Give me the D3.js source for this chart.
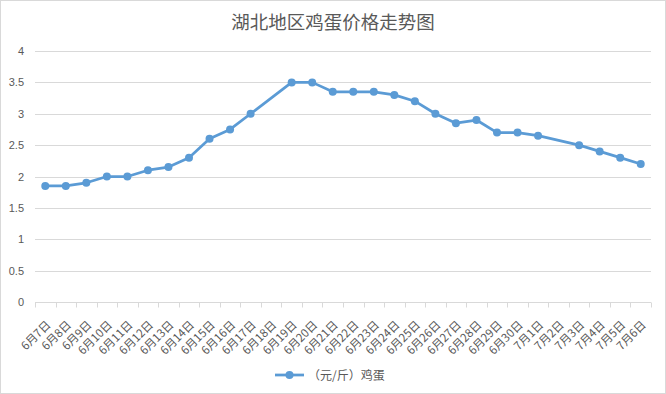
<!DOCTYPE html>
<html>
<head>
<meta charset="utf-8">
<script src="https://cdn.jsdelivr.net/npm/d3@7"></script>
<style>
  body { margin: 0; background: #fff; }
  text { font-family: "Liberation Sans", "Noto Sans CJK SC", sans-serif; }
</style>
</head>
<body>
<div id="chart"></div>
<script>
// categories (dates) and prices, null = no value that day
const dates = ["6月7日","6月8日","6月9日","6月10日","6月11日","6月12日","6月13日","6月14日","6月15日","6月16日",
  "6月17日","6月18日","6月19日","6月20日","6月21日","6月22日","6月23日","6月24日","6月25日","6月26日",
  "6月27日","6月28日","6月29日","6月30日","7月1日","7月2日","7月3日","7月4日","7月5日","7月6日"];
const prices = [1.85,1.85,1.9,2.0,2.0,2.1,2.15,2.3,2.6,2.75,
  3.0,null,3.5,3.5,3.35,3.35,3.35,3.3,3.2,3.0,
  2.85,2.9,2.7,2.7,2.65,null,2.5,2.4,2.3,2.2];
const yTicks = [0,0.5,1,1.5,2,2.5,3,3.5,4];
const seriesName = "（元/斤）鸡蛋";
const title = "湖北地区鸡蛋价格走势图";

const W = 666, H = 394;
const margin = { top: 51, right: 15, bottom: 92, left: 35 };
const width = W - margin.left - margin.right;
const height = H - margin.top - margin.bottom;
const blue = "#5b9bd5", grey = "#595959", gridC = "#d9d9d9";

const svg = d3.select("#chart").append("svg")
    .attr("width", W).attr("height", H);

// outer border
svg.append("rect")
    .attr("x", 0.5).attr("y", 0.5)
    .attr("width", W - 1).attr("height", H - 1)
    .attr("fill", "#fff").attr("stroke", gridC);

svg.append("text")
    .attr("x", W / 2).attr("y", 29)
    .attr("text-anchor", "middle")
    .attr("font-size", 18.5)
    .attr("fill", grey)
    .style("font-family", "'Noto Sans CJK SC', sans-serif")
    .text(title);

const g = svg.append("g")
    .attr("transform", `translate(${margin.left},${margin.top})`);

const xScale = d3.scaleBand().domain(dates).range([0, width]);
const yScale = d3.scaleLinear().domain([0, 4]).range([height, 0]);

// gridlines
g.selectAll(".grid").data(yTicks.filter(d => d > 0)).enter()
    .append("line")
    .attr("x1", 0).attr("x2", width)
    .attr("y1", d => Math.round(yScale(d)) + 0.5)
    .attr("y2", d => Math.round(yScale(d)) + 0.5)
    .attr("stroke", gridC);

// y axis labels
const yAxis = g.append("g")
    .call(d3.axisLeft(yScale).tickValues(yTicks).tickFormat(d => String(d)).tickSize(0).tickPadding(11));
yAxis.select(".domain").remove();
yAxis.selectAll("text").attr("font-size", 11).attr("fill", grey)
    .style("font-family", "'Liberation Sans', sans-serif");

// x axis
const xAxis = g.append("g")
    .attr("transform", `translate(0,${Math.round(height) + 0.5})`);
xAxis.append("line").attr("x1", 0).attr("x2", width).attr("stroke", gridC);
xAxis.selectAll(".tk").data(dates.concat(["end"])).enter()
    .append("line")
    .attr("x1", (d, i) => Math.round(i * xScale.step()) + 0.5)
    .attr("x2", (d, i) => Math.round(i * xScale.step()) + 0.5)
    .attr("y1", 0).attr("y2", 5)
    .attr("stroke", gridC);
xAxis.selectAll(".lbl").data(dates).enter()
    .append("text")
    .attr("transform", d => `translate(${xScale(d) + xScale.bandwidth() / 2 + 6},${23}) rotate(-45)`)
    .attr("text-anchor", "end")
    .attr("font-size", 11.5)
    .attr("fill", grey)
    .style("font-family", "'Noto Sans CJK SC', sans-serif")
    .text(d => d);

// line, gaps connected
const pts = dates.map((d, i) => ({ d, v: prices[i] })).filter(p => p.v !== null);
const line = d3.line()
    .x(p => xScale(p.d) + xScale.bandwidth() / 2)
    .y(p => yScale(p.v));
g.append("path")
    .datum(pts)
    .attr("d", line)
    .attr("fill", "none")
    .attr("stroke", blue)
    .attr("stroke-width", 2.75)
    .attr("stroke-linejoin", "round");
g.selectAll(".pt").data(pts).enter()
    .append("circle")
    .attr("cx", p => xScale(p.d) + xScale.bandwidth() / 2)
    .attr("cy", p => yScale(p.v))
    .attr("r", 4)
    .attr("fill", blue);

// legend
const lg = svg.append("g").attr("transform", "translate(275,375)");
lg.append("line").attr("x1", 0).attr("x2", 29).attr("y1", 0).attr("y2", 0)
    .attr("stroke", blue).attr("stroke-width", 2.75);
lg.append("circle").attr("cx", 14.5).attr("cy", 0).attr("r", 4).attr("fill", blue);
lg.append("text").attr("x", 33).attr("y", 4.5)
    .attr("font-size", 12).attr("fill", grey)
    .style("font-family", "'Noto Sans CJK SC', sans-serif")
    .text(seriesName);
</script>
</body>
</html>
